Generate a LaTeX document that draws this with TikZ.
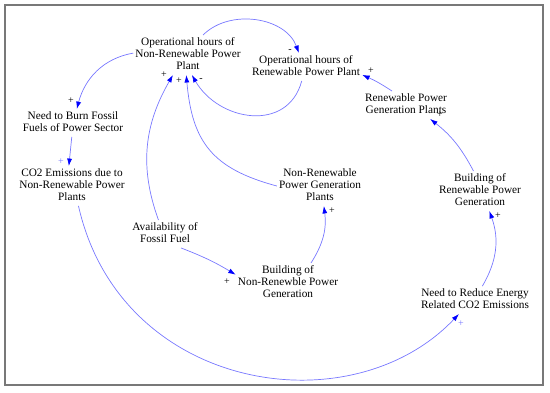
\documentclass[tikz,border=0pt]{standalone}
\usepackage{fontspec}
\setmainfont{Liberation Serif}
\usetikzlibrary{arrows.meta}
\definecolor{Link}{RGB}{120,120,255}
\definecolor{Tip}{RGB}{0,0,255}
\definecolor{Frame}{RGB}{120,120,120}

\begin{document}
\begin{tikzpicture}[x=1pt,y=1pt,
    v/.style={align=center,font=\fontsize{11.3}{12}\selectfont,inner xsep=2pt,inner ysep=2pt,
      execute at begin node=\strut,execute at end node=\strut},
    l/.style={draw=Link,line width=0.7pt,-{Latex[length=7.5pt,width=5pt,color=Tip]}},
    s/.style={font=\fontsize{10}{10}\selectfont,inner sep=0pt}]
  \useasboundingbox (0,0) rectangle (550,-392);
  \draw[Frame,line width=1.5pt] (5,-5) rectangle (543,-385);

  \node[v] (opnr) at (188,-55) {Operational hours of\\Non-Renewable Power\\Plant};
  \node[v] (opr) at (306,-67) {Operational hours of\\Renewable Power Plant};
  \node[v] (rpgp) at (406,-105) {Renewable Power\\Generation Plants};
  \node[v] (brpg) at (480,-191) {Building of\\Renewable Power\\Generation};
  \node[v] (nre) at (475,-300) {Need to Reduce Energy\\Related CO2 Emissions};
  \node[v] (nbf) at (73,-123) {Need to Burn Fossil\\Fuels of Power Sector};
  \node[v] (co2) at (72,-186) {CO2 Emissions due to\\Non-Renewable Power\\Plants};
  \node[v] (aff) at (165,-234) {Availability of\\Fossil Fuel};
  \node[v] (nrpgp) at (320,-186) {Non-Renewable\\Power Generation\\Plants};
  \node[v] (bnrpg) at (288,-283) {Building of\\Non-Renewble Power\\Generation};

  \draw[l] (opnr.53) to[out=45,in=110] (opr.117);
  \draw[l] (opr.253) to[out=255,in=300,looseness=1.25] (opnr.281);
  \draw[l] (rpgp.135) to[bend right=5] (opr.-8);
  \draw[l] (brpg.108) to[bend right=12] (rpgp.-30);
  \draw[l] (nre.62) to[bend right=25] (brpg.-65);
  \draw[l] (co2.-72) .. controls +(42,-186) and +(-108,-114) .. (nre.221);
  \draw[l] (opnr.178) to[out=190,in=75] (nbf.75);
  \draw[l] (nbf.265) -- (co2.99);
  \draw[l] (aff.115) to[out=110,in=240] (opnr.233);
  \draw[l] (nrpgp.180) to[out=165,in=275,looseness=1.2] (opnr.265);
  \draw[l] (aff.-41) to[bend left=5] (bnrpg.171);
  \draw[l] (bnrpg.41) to[bend right=20] (nrpgp.-79);

  \node[s] (sa) at (290,-51) {-};
  \node[s] (sb) at (201,-80) {-};
  \node[s] (sc) at (371,-71) {+};
  \node[s] (sd) at (440,-115) {+};
  \node[s] (se) at (498,-216) {+};
  \node[s,text=Link] (sf) at (461,-324) {+};
  \node[s] (sg) at (71,-101) {+};
  \node[s,text=Link] (sh) at (61,-162) {+};
  \node[s] (si) at (164,-75) {+};
  \node[s] (sj) at (179,-81) {+};
  \node[s] (sk) at (227,-282) {+};
  \node[s] (sl) at (332,-211) {+};
\end{tikzpicture}
\end{document}
